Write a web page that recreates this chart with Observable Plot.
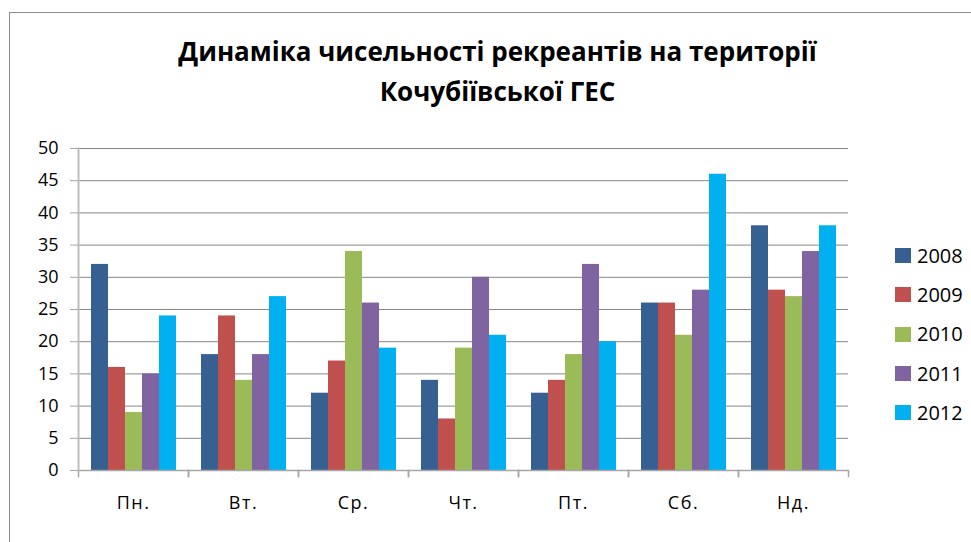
<!DOCTYPE html>
<html>
<head>
<meta charset="utf-8">
<script src="https://cdn.jsdelivr.net/npm/d3@7"></script>
<script src="https://cdn.jsdelivr.net/npm/@observablehq/plot@0.6"></script>
<style>
  body { margin: 0; background: #fff; font-family: "Open Sans", sans-serif; }
  #wrap { position: relative; width: 971px; height: 542px; overflow: hidden; }
  #border { position: absolute; left: 9px; top: 12px; width: 1000px; height: 600px; border: 1px solid #8c8c8c; box-sizing: border-box; }
  #title { position: absolute; left: 0; width: 995px; top: 31px; text-align: center; font-weight: 700; font-size: 26px; line-height: 40px; color: #000; }
  #chart { position: absolute; left: 0; top: 0; }
  #legend { position: absolute; left: 895px; top: 236px; font-size: 20px; color: #000; }
  .li { height: 39.3px; display: flex; align-items: center; line-height: 22px; }
  .li span.sw { display: inline-block; width: 16px; height: 15px; margin-right: 6px; }
</style>
</head>
<body>
<div id="wrap">
  <div id="border"></div>
  <div id="chart"></div>
  <div id="title">Динаміка чисельності рекреантів на території<br>Кочубіївської ГЕС</div>
  <div id="legend"></div>
</div>
<script>
const days = ["Пн.", "Вт.", "Ср.", "Чт.", "Пт.", "Сб.", "Нд."];
const years = ["2008", "2009", "2010", "2011", "2012"];
const v2008 = [32, 18, 12, 14, 12, 26, 38];
const v2009 = [16, 24, 17, 8, 14, 26, 28];
const v2010 = [9, 14, 34, 19, 18, 21, 27];
const v2011 = [15, 18, 26, 30, 32, 28, 34];
const v2012 = [24, 27, 19, 21, 20, 46, 38];
const yTicks = [0, 5, 10, 15, 20, 25, 30, 35, 40, 45, 50];
const colors = ["#376092", "#C0504D", "#9BBB59", "#8064A2", "#00B0F0"];

const series = [v2008, v2009, v2010, v2011, v2012];
const data = [];
days.forEach((d, i) => years.forEach((y, j) => data.push({day: d, year: y, value: series[j][i]})));

const W = 971, H = 542, mt = 148, mb = 72, ml = 78, mr = 123;
const plotH = H - mt - mb;

const chart = Plot.plot({
  width: W, height: H,
  marginTop: mt, marginBottom: mb, marginLeft: ml, marginRight: mr,
  style: {fontFamily: "Open Sans, sans-serif", fontSize: "18px", color: "#000", background: "transparent"},
  fx: {domain: days, padding: 0, label: null, axis: null},
  x: {domain: years, axis: null, paddingInner: 0, paddingOuter: 0.6},
  y: {domain: [0, 50], axis: null},
  color: {domain: years, range: colors},
  marks: [
    Plot.gridY(yTicks, {stroke: "#868686", strokeOpacity: 1}),
    Plot.barY(data, {fx: "day", x: "year", y: "value", fill: "year", insetLeft: 0, insetRight: 0}),
    Plot.frame({anchor: "left", insetTop: plotH, insetBottom: -6, stroke: "#a6a6a6", strokeWidth: 1.5}),
    Plot.frame({anchor: "right", insetTop: plotH, insetBottom: -6, stroke: "#a6a6a6", strokeWidth: 1.5}),
    Plot.ruleY([0], {stroke: "#a6a6a6", strokeWidth: 1.5}),
    Plot.frame({anchor: "left", facetAnchor: "left", stroke: "#bdbdbd", strokeWidth: 2}),
    Plot.axisY(yTicks, {tickSize: 8, tickPadding: 12, stroke: "#a6a6a6", fontSize: 18, fill: "#000", label: null, facetAnchor: "left"}),
    Plot.axisFx({tickSize: 0, tickPadding: 26, fill: "#000", label: null, anchor: "bottom"})
  ]
});
d3.select(chart).selectAll('g[aria-label^="fx-axis"] text').style("font-size", "18px").style("letter-spacing", "1.5px");
document.getElementById("chart").appendChild(chart);

const leg = document.getElementById("legend");
years.forEach((y, i) => {
  const row = document.createElement("div");
  row.className = "li";
  row.innerHTML = `<span class="sw" style="background:${colors[i]}"></span><span>${y}</span>`;
  leg.appendChild(row);
});
</script>
</body>
</html>
